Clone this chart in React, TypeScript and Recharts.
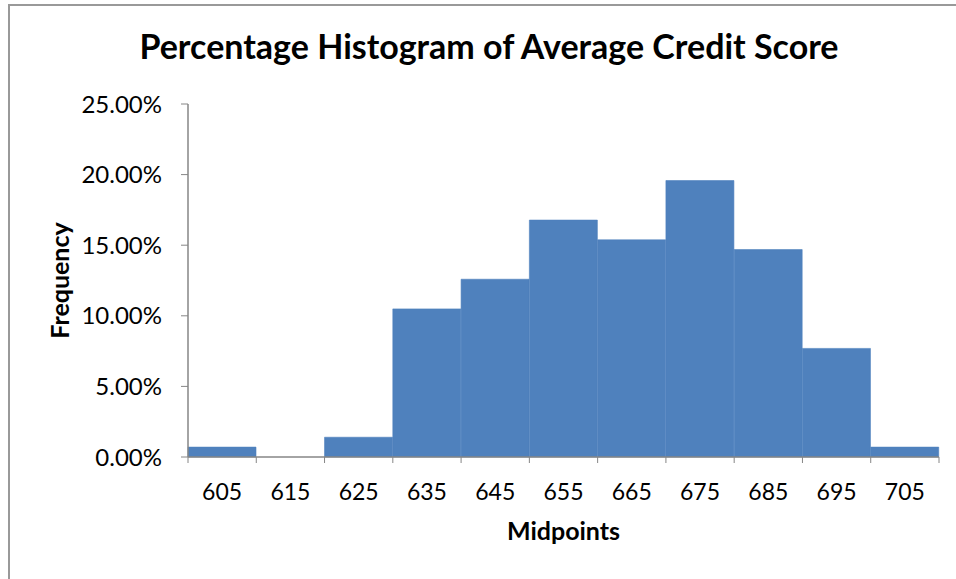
import React from 'react';
import { BarChart, Bar, XAxis, YAxis, Label } from 'recharts';

const midpoints: number[] = [605, 615, 625, 635, 645, 655, 665, 675, 685, 695, 705];
const percentages: number[] = [0.70, 0.0, 1.40, 10.49, 12.59, 16.78, 15.38, 19.58, 14.69, 7.69, 0.70];
const yTicks: number[] = [0, 5, 10, 15, 20, 25];

const data = midpoints.map((m, i) => ({ mid: String(m), pct: percentages[i] }));

const FONT = 'Lato, "Open Sans", sans-serif';
const AXIS_GRAY = '#868686';
const BAR_BLUE = '#4F81BD';

const XTick = (props: any) => {
  const { x, y, payload, index, visibleTicksCount } = props;
  const half = payload && payload.offset ? payload.offset : 0;
  const axisY = y - 6;
  return (
    <g>
      <line x1={x - half} x2={x - half} y1={axisY} y2={axisY + 6} stroke={AXIS_GRAY} strokeWidth={1} />
      {index === visibleTicksCount - 1 && (
        <line x1={x + half} x2={x + half} y1={axisY} y2={axisY + 6} stroke={AXIS_GRAY} strokeWidth={1} />
      )}
      <text x={x} y={axisY + 43} textAnchor="middle" fontFamily={FONT} fontSize={23} fill="#000">
        {payload.value}
      </text>
    </g>
  );
};

export default function App() {
  return (
    <div style={{ position: 'absolute', left: 0, top: 0, width: 956, height: 579, background: '#fff', overflow: 'hidden' }}>
      <div
        style={{
          position: 'absolute',
          left: 8,
          top: 4,
          width: 960,
          height: 600,
          borderTop: '2px solid #999',
          borderLeft: '2px solid #999',
        }}
      />
      <svg style={{ position: 'absolute', left: 0, top: 0 }} width={956} height={80}>
        <text x={489} y={59} textAnchor="middle" fontFamily={FONT} fontWeight={700} fontSize={34} fill="#000">
          Percentage Histogram of Average Credit Score
        </text>
      </svg>
      <div style={{ position: 'absolute', left: 0, top: 0 }}>
        <BarChart
          width={956}
          height={579}
          data={data}
          margin={{ top: 104, right: 17, bottom: 0, left: 0 }}
          barCategoryGap={0}
          barGap={0}
        >
          <XAxis
            dataKey="mid"
            type="category"
            height={122}
            axisLine={{ stroke: AXIS_GRAY, strokeWidth: 1.5 }}
            tickLine={false}
            tickSize={6}
            tickMargin={0}
            interval={0}
            tick={<XTick />}
          >
            <Label
              content={(p: any) => {
                const vb = p.viewBox;
                return (
                  <text
                    x={vb.x + vb.width / 2}
                    y={vb.y + 83}
                    textAnchor="middle"
                    fontFamily={FONT}
                    fontWeight={700}
                    fontSize={25}
                    fill="#000"
                  >
                    Midpoints
                  </text>
                );
              }}
            />
          </XAxis>
          <YAxis
            type="number"
            domain={[0, 25]}
            ticks={yTicks}
            width={188}
            axisLine={{ stroke: AXIS_GRAY, strokeWidth: 1.5 }}
            tickLine={{ stroke: AXIS_GRAY, strokeWidth: 1 }}
            tickSize={7}
            tickMargin={19}
            tickFormatter={(v: number) => v.toFixed(2) + '%'}
            tick={{ fontFamily: FONT, fontSize: 24, fill: '#000' }}
          >
            <Label
              content={(p: any) => {
                const vb = p.viewBox;
                const cx = 59;
                const cy = vb.y + vb.height / 2;
                return (
                  <text
                    x={cx}
                    y={cy}
                    transform={`rotate(-90, ${cx}, ${cy})`}
                    textAnchor="middle"
                    dominantBaseline="central"
                    fontFamily={FONT}
                    fontWeight={700}
                    fontSize={25}
                    fill="#000"
                  >
                    Frequency
                  </text>
                );
              }}
            />
          </YAxis>
          <Bar dataKey="pct" fill={BAR_BLUE} stroke={BAR_BLUE} strokeWidth={0.6} isAnimationActive={false} />
        </BarChart>
      </div>
    </div>
  );
}
